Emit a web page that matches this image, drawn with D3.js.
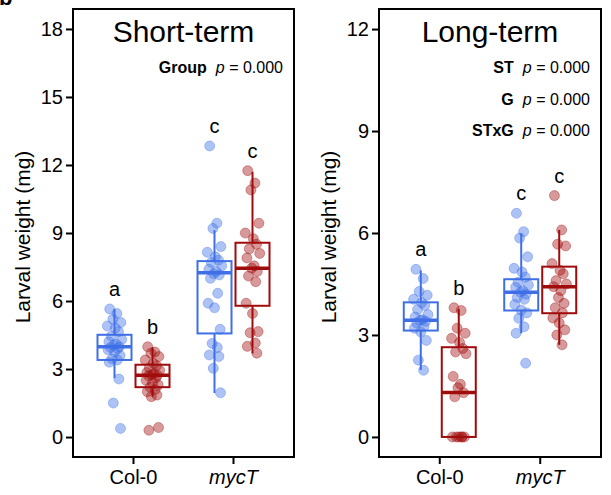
<!DOCTYPE html>
<html>
<head>
<meta charset="utf-8">
<script src="https://cdn.jsdelivr.net/npm/d3@7"></script>
<style>
  body { margin: 0; background: #fff; }
  svg { font-family: Arial, 'Liberation Sans', sans-serif; }
</style>
</head>
<body>
<div id="chart"></div>
<script>
// categories
const genotypes = ['Col-0', 'mycT'];
const treatments = ['ctrl', 'trt'];

// Short-term raw weights (mg)
const stCol0Ctrl = [5.65, 5.45, 5.2, 5.05, 4.9, 4.8, 4.65, 4.45, 4.3, 4.2, 4.1, 4.05, 3.98, 3.95, 3.9, 3.85, 3.75, 3.6, 3.45, 3.4, 3.3, 2.56, 1.5, 0.38];
const stCol0Trt = [3.98, 3.75, 3.7, 3.55, 3.4, 3.25, 3.15, 3.05, 2.95, 2.85, 2.8, 2.75, 2.72, 2.7, 2.6, 2.5, 2.4, 2.3, 2.2, 2.1, 2.0, 1.85, 1.78, 0.42, 0.3];
const stMycCtrl = [12.84, 9.43, 9.2, 8.4, 8.15, 7.95, 7.8, 7.7, 7.55, 7.4, 7.3, 7.2, 7.15, 7.0, 6.34, 5.9, 5.7, 4.75, 4.13, 3.95, 3.62, 3.55, 3.03, 1.95];
const stMycTrt = [11.75, 11.2, 10.9, 9.43, 9.0, 8.75, 8.5, 8.3, 8.1, 7.9, 7.55, 7.45, 7.3, 7.1, 6.85, 5.9, 5.45, 4.65, 4.6, 4.15, 4.0, 3.7];

// Short-term box stats: Col-0 ctrl, Col-0 trt, mycT ctrl, mycT trt
const stLow = [2.6, 1.78, 1.94, 3.69];
const stQ1 = [3.40, 2.20, 4.57, 5.79];
const stMed = [3.98, 2.73, 7.25, 7.44];
const stQ3 = [4.51, 3.19, 7.76, 8.57];
const stHigh = [5.65, 3.96, 9.13, 11.7];
const stLetters = ['a', 'b', 'c', 'c'];

// Long-term raw weights (mg)
const ltCol0Ctrl = [4.93, 4.66, 4.28, 4.17, 4.05, 3.95, 3.87, 3.75, 3.6, 3.53, 3.45, 3.43, 3.4, 3.35, 3.25, 3.2, 3.09, 2.84, 2.26, 1.96];
const ltCol0Trt = [3.8, 3.72, 3.2, 3.05, 2.9, 2.78, 2.6, 2.5, 2.45, 1.78, 1.55, 1.45, 1.3, 1.18, 0, 0, 0, 0, 0, 0];
const ltMycCtrl = [6.58, 6.04, 5.85, 5.3, 4.96, 4.85, 4.7, 4.55, 4.47, 4.4, 4.3, 4.26, 4.2, 4.1, 4.05, 3.9, 3.73, 3.65, 3.49, 3.24, 3.05, 2.17];
const ltMycTrt = [7.1, 6.09, 5.67, 5.62, 5.1, 4.9, 4.8, 4.6, 4.5, 4.42, 4.3, 4.1, 3.93, 3.8, 3.65, 3.5, 3.35, 3.15, 3.0, 2.71];

const ltLow = [1.97, 0, 3.05, 2.71];
const ltQ1 = [3.13, 0, 3.72, 3.64];
const ltMed = [3.43, 1.31, 4.26, 4.42];
const ltQ3 = [3.96, 2.64, 4.64, 5.01];
const ltHigh = [4.9, 3.76, 5.99, 6.09];
const ltLetters = ['a', 'b', 'c', 'c'];

// axis ticks
const stTicks = [0, 3, 6, 9, 12, 15, 18];
const ltTicks = [0, 3, 6, 9, 12];

// fixed jitter pattern (fraction of jitter width)
const jitter = [-0.6, 0.3, -0.2, 0.8, -0.9, 0.1, 0.5, -0.4, 0.9, -0.7, 0.2, -0.1, 0.6, -0.5, 0.4, -0.8, 0.0, 0.7, -0.3, 0.35, -0.65, 0.55, -0.15, 0.75, -0.45];

const colors = { ctrl: '#3f6fe6', trt: '#a00c0c' };

const width = 611;
const height = 495;

const svg = d3.select('#chart')
  .append('svg')
  .attr('width', width)
  .attr('height', height);

// panel letter, cropped at top-left as in the source figure
svg.append('text')
  .attr('x', -1)
  .attr('y', 5)
  .attr('font-size', '22px')
  .attr('font-weight', 'bold')
  .text('b');

function drawPanel(opts) {
  const left = opts.left, right = opts.right, top = 9, bottom = 457;

  const y = d3.scaleLinear().domain(opts.domain).range([bottom, top]);
  const x = d3.scaleBand()
    .domain(genotypes)
    .range([left, right])
    .paddingInner(0)
    .paddingOuter(0.105);
  const xSub = d3.scalePoint().domain(treatments).range([-19, 19]);
  const boxW = 34;

  const g = svg.append('g');

  // y-axis
  const yAxis = g.append('g')
    .attr('transform', `translate(${left},0)`)
    .call(d3.axisLeft(y).tickValues(opts.ticks).tickSize(7).tickPadding(3));
  yAxis.select('.domain').remove();
  yAxis.selectAll('line').attr('stroke', '#000').attr('stroke-width', 2);
  yAxis.selectAll('text').attr('font-size', '20px').attr('fill', '#000')
    .attr('font-family', 'Arial, Liberation Sans, sans-serif');

  // x-axis
  const xAxis = g.append('g')
    .attr('transform', `translate(0,${bottom})`)
    .call(d3.axisBottom(x).tickSize(7).tickPadding(6));
  xAxis.select('.domain').remove();
  xAxis.selectAll('line').attr('stroke', '#000').attr('stroke-width', 2);
  xAxis.selectAll('text').attr('font-size', '20px').attr('fill', '#000')
    .attr('font-family', 'Arial, Liberation Sans, sans-serif')
    .attr('font-style', d => d === 'mycT' ? 'italic' : 'normal');

  // y-axis label
  g.append('text')
    .attr('transform', 'rotate(-90)')
    .attr('x', -(top + bottom) / 2 - 4)
    .attr('y', left - 43)
    .attr('text-anchor', 'middle')
    .attr('font-size', '21px')
    .text('Larval weight (mg)');

  // boxes
  const boxes = [];
  genotypes.forEach((gt, i) => {
    treatments.forEach((tr, j) => {
      const k = i * 2 + j;
      boxes.push({
        gt, tr,
        low: opts.low[k], q1: opts.q1[k], med: opts.med[k], q3: opts.q3[k], high: opts.high[k],
        pts: opts.points[k], letter: opts.letters[k]
      });
    });
  });

  const cx = d => x(d.gt) + x.bandwidth() / 2 + xSub(d.tr);

  // jittered points
  boxes.forEach(b => {
    g.append('g')
      .selectAll('circle')
      .data(b.pts)
      .enter()
      .append('circle')
      .attr('cx', (v, i) => cx(b) + jitter[i % jitter.length] * 8)
      .attr('cy', v => y(v))
      .attr('r', 5)
      .attr('fill', colors[b.tr])
      .attr('fill-opacity', 0.42)
      .attr('stroke', colors[b.tr])
      .attr('stroke-opacity', 0.35)
      .attr('stroke-width', 1);
  });

  const bx = g.selectAll('.box')
    .data(boxes)
    .enter()
    .append('g')
    .attr('class', 'box');

  bx.append('line')
    .attr('x1', cx).attr('x2', cx)
    .attr('y1', d => y(d.q3)).attr('y2', d => y(d.high))
    .attr('stroke', d => colors[d.tr]).attr('stroke-width', 2);
  bx.append('line')
    .attr('x1', cx).attr('x2', cx)
    .attr('y1', d => y(d.q1)).attr('y2', d => y(d.low))
    .attr('stroke', d => colors[d.tr]).attr('stroke-width', 2);
  bx.append('rect')
    .attr('x', d => cx(d) - boxW / 2)
    .attr('width', boxW)
    .attr('y', d => y(d.q3))
    .attr('height', d => y(d.q1) - y(d.q3))
    .attr('fill', 'none')
    .attr('stroke', d => colors[d.tr])
    .attr('stroke-width', 2);
  bx.append('line')
    .attr('x1', d => cx(d) - boxW / 2).attr('x2', d => cx(d) + boxW / 2)
    .attr('y1', d => y(d.med)).attr('y2', d => y(d.med))
    .attr('stroke', d => colors[d.tr]).attr('stroke-width', 3.5);

  // letters
  bx.append('text')
    .attr('x', cx)
    .attr('y', d => y(d3.max(d.pts)) - 13)
    .attr('text-anchor', 'middle')
    .attr('font-size', '20px')
    .text(d => d.letter);

  // panel border
  g.append('rect')
    .attr('x', left).attr('y', top)
    .attr('width', right - left).attr('height', bottom - top)
    .attr('fill', 'none')
    .attr('stroke', '#000')
    .attr('stroke-width', 2);

  // title
  g.append('text')
    .attr('x', (left + right) / 2)
    .attr('y', 42)
    .attr('text-anchor', 'middle')
    .attr('font-size', '30px')
    .text(opts.title);

  // p-values
  opts.stats.forEach((s, i) => {
    const t = g.append('text')
      .attr('x', right - 11)
      .attr('y', 73 + i * 31.5)
      .attr('text-anchor', 'end')
      .attr('font-size', '16px');
    t.append('tspan').attr('font-weight', 'bold').text(s);
    t.append('tspan').attr('font-style', 'italic').attr('dx', 9).text('p');
    t.append('tspan').text(' = 0.000');
  });
}

drawPanel({
  left: 73, right: 294,
  domain: [-0.88, 18.88],
  ticks: stTicks,
  title: 'Short-term',
  stats: ['Group'],
  points: [stCol0Ctrl, stCol0Trt, stMycCtrl, stMycTrt],
  low: stLow, q1: stQ1, med: stMed, q3: stQ3, high: stHigh,
  letters: stLetters
});

drawPanel({
  left: 379, right: 601,
  domain: [-0.59, 12.59],
  ticks: ltTicks,
  title: 'Long-term',
  stats: ['ST', 'G', 'STxG'],
  points: [ltCol0Ctrl, ltCol0Trt, ltMycCtrl, ltMycTrt],
  low: ltLow, q1: ltQ1, med: ltMed, q3: ltQ3, high: ltHigh,
  letters: ltLetters
});
</script>
</body>
</html>
